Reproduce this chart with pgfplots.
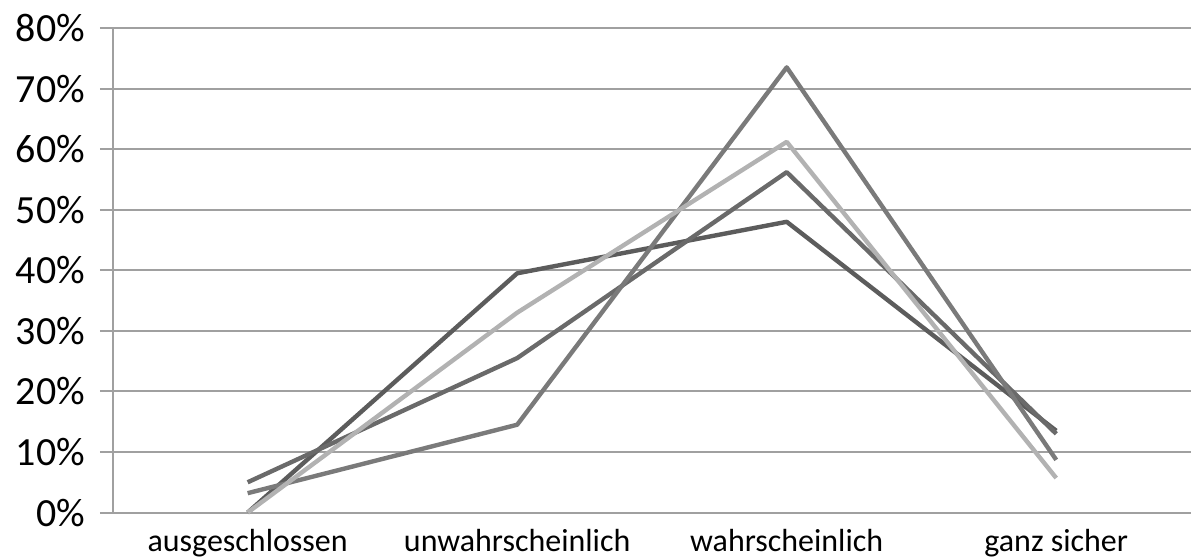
\documentclass[border=0pt]{standalone}
\usepackage{fontspec}
\setmainfont{Carlito}
\usepackage{pgfplots}
\pgfplotsset{compat=1.18}
\definecolor{gridc}{HTML}{A0A0A0}
\definecolor{sA}{HTML}{5C5C5C}
\definecolor{sB}{HTML}{6A6A6A}
\definecolor{sC}{HTML}{7A7A7A}
\definecolor{sD}{HTML}{B2B2B2}
\begin{document}
\begin{tikzpicture}
\begin{axis}[
    scale only axis,
    width=539.5pt, height=242.5pt,
    xmin=-0.5, xmax=3.5,
    ymin=0, ymax=80,
    ytick={0,10,...,80},
    yticklabel={\pgfmathprintnumber{\tick}\%},
    /pgf/number format/assume math mode=true,
    ymajorgrids,
    grid style={gridc, line width=1pt},
    axis line style={gridc, line width=1pt},
    axis x line=none,
    axis y line*=left,
    tick align=outside,
    major tick length=6.5pt,
    ytick style={gridc, line width=1pt},
    yticklabel style={font=\fontsize{20}{22}\selectfont, xshift=-4pt},
    clip=false,
]
\draw[gridc, line width=1pt] (axis cs:-0.5,0) -- (axis cs:3.5,0);
% category names under the plot
\node[anchor=north, font=\fontsize{16}{18}\selectfont, inner sep=0pt] at (axis cs:0,0) [yshift=-8pt] {ausgeschlossen};
\node[anchor=north, font=\fontsize{16}{18}\selectfont, inner sep=0pt] at (axis cs:1,0) [yshift=-8pt] {unwahrscheinlich};
\node[anchor=north, font=\fontsize{16}{18}\selectfont, inner sep=0pt] at (axis cs:2,0) [yshift=-8pt] {wahrscheinlich};
\node[anchor=north, font=\fontsize{16}{18}\selectfont, inner sep=0pt] at (axis cs:3,0) [yshift=-8pt] {ganz sicher};
\addplot[sA, line width=2.2pt, line join=round] coordinates {(0,0) (1,39.5) (2,48.0) (3,13.5)};
\addplot[sB, line width=2.2pt, line join=round] coordinates {(0,5.0) (1,25.5) (2,56.2) (3,13.0)};
\addplot[sC, line width=2.2pt, line join=round] coordinates {(0,3.2) (1,14.5) (2,73.5) (3,8.7)};
\addplot[sD, line width=2.2pt, line join=round] coordinates {(0,0) (1,33.0) (2,61.2) (3,5.7)};
\end{axis}
\path (current axis.south west) ++(-56.5pt,-23.5pt) coordinate (bbA);
\path (current axis.north east) ++(0pt,14pt) coordinate (bbB);
\path (bbA) rectangle (bbB);
\end{tikzpicture}
\end{document}
